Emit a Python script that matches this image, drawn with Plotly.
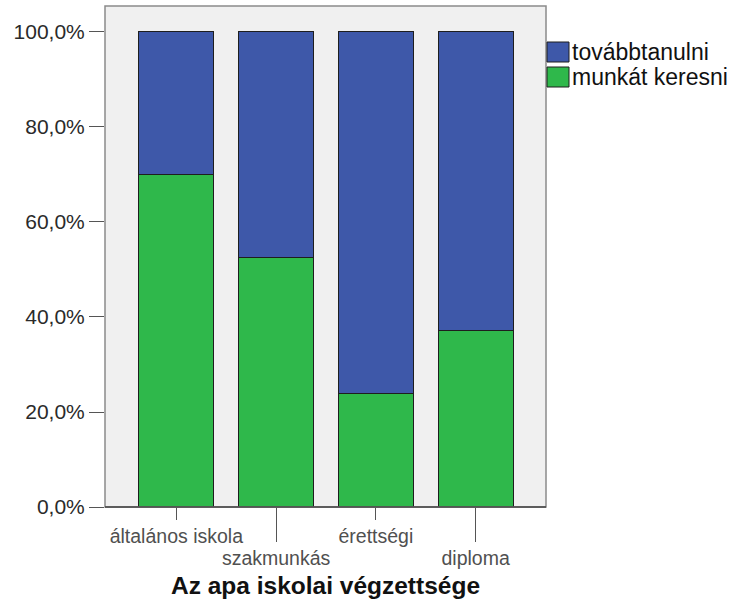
import plotly.graph_objects as go

# DATA
categories = ["általános iskola", "szakmunkás", "érettségi", "diploma"]
munkat_keresni = [69.9, 52.5, 23.8, 37.1]
tovabbtanulni = [30.1, 47.5, 76.2, 62.9]
y_ticks = [0, 20, 40, 60, 80, 100]
y_ticktext = ["0,0%", "20,0%", "40,0%", "60,0%", "80,0%", "100,0%"]

# THEME
BLUE = "#3e58a9"
GREEN = "#2fb84b"
PLOT_BG = "#f0f0f0"
FRAME = "#8a8a8a"
EDGE = "#1e1e1e"
FONT = "Liberation Sans, Arial, sans-serif"

fig = go.Figure()
fig.add_trace(go.Bar(
    x=categories, y=munkat_keresni, name="munkát keresni",
    marker=dict(color=GREEN, line=dict(color=EDGE, width=1)), width=0.75,
))
fig.add_trace(go.Bar(
    x=categories, y=tovabbtanulni, name="továbbtanulni",
    marker=dict(color=BLUE, line=dict(color=EDGE, width=1)), width=0.75,
))

xrange = [-0.715, 3.705]

fig.update_layout(
    width=734, height=604,
    margin=dict(l=105, r=188, t=6, b=97, autoexpand=False),
    paper_bgcolor="white",
    plot_bgcolor=PLOT_BG,
    barmode="stack",
    showlegend=False,
    font=dict(family=FONT, color="#222222"),
    yaxis=dict(
        range=[0, 105.47], tickvals=y_ticks, ticktext=y_ticktext,
        ticks="outside", ticklen=15, tickcolor="#555555", tickwidth=1,
        showgrid=False, zeroline=False, automargin=False,
        tickfont=dict(size=21, color="#2a2a2a"),
    ),
    # short ticks for 1st and 3rd category
    xaxis=dict(
        type="category", range=xrange, categoryorder="array", categoryarray=categories,
        tickvals=[categories[0], categories[2]], ticktext=[categories[0], categories[2]],
        ticks="outside", ticklen=12, tickcolor="#555555", tickwidth=1,
        showgrid=False, zeroline=False, automargin=False,
        tickfont=dict(size=19.5, color="#505050"),
        title=dict(text="<b>Az apa iskolai végzettsége</b>",
                   font=dict(size=24.5, color="#111111"), standoff=30),
    ),
    # long ticks for 2nd and 4th category (staggered labels)
    xaxis2=dict(
        type="category", range=xrange, categoryorder="array", categoryarray=categories,
        overlaying="x", anchor="y", side="bottom",
        tickvals=[categories[1], categories[3]], ticktext=[categories[1], categories[3]],
        ticks="outside", ticklen=34, tickcolor="#555555", tickwidth=1,
        showgrid=False, zeroline=False, automargin=False,
        tickfont=dict(size=19.5, color="#505050"),
    ),
)

# invisible trace so the second x axis is drawn
fig.add_trace(go.Scatter(x=[categories[0]], y=[0], xaxis="x2", mode="markers",
                         marker=dict(opacity=0), hoverinfo="skip", showlegend=False))

# plot frame
fig.add_shape(type="rect", xref="paper", yref="paper", x0=0, x1=1, y0=0, y1=1,
              line=dict(color=FRAME, width=1.5), layer="above")
fig.add_shape(type="line", xref="paper", yref="paper", x0=0, x1=1, y0=0, y1=0,
              line=dict(color="#444444", width=1.5), layer="above")

# legend
legend_items = [("továbbtanulni", BLUE), ("munkát keresni", GREEN)]
for i, (label, col) in enumerate(legend_items):
    top = 42 + i * 25
    y0 = (507 - (top + 20)) / 501
    y1 = (507 - top) / 501
    fig.add_shape(type="rect", xref="paper", yref="paper",
                  x0=(547 - 105) / 441, x1=(569 - 105) / 441, y0=y0, y1=y1,
                  fillcolor=col, line=dict(color=EDGE, width=1))
    fig.add_annotation(text=label, xref="paper", yref="paper",
                       x=(570 - 105) / 441, y=(y0 + y1) / 2, xanchor="left", yanchor="middle",
                       showarrow=False, font=dict(size=23, color="#111111"))

fig.write_html("out.html", config={"displayModeBar": False},
               post_script="document.body.style.margin='0';")
